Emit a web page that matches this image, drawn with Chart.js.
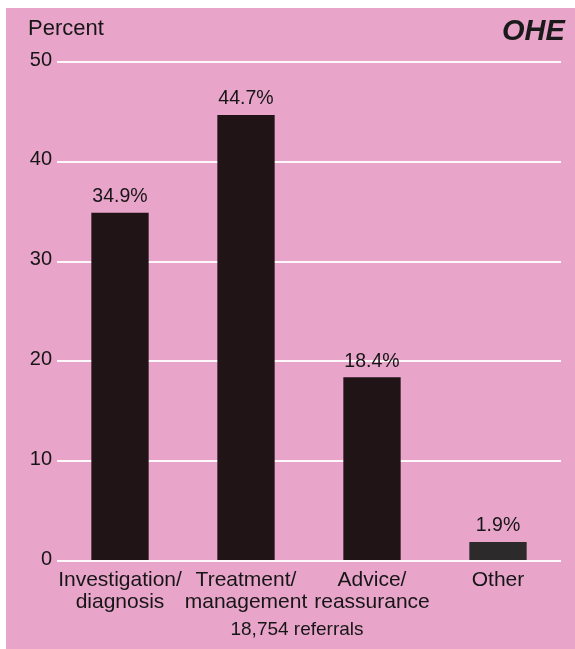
<!DOCTYPE html>
<html>
<head>
<meta charset="utf-8">
<script src="https://cdn.jsdelivr.net/npm/chart.js@4.4.1/dist/chart.umd.min.js"></script>
<style>
  html, body { margin: 0; padding: 0; background: #ffffff; }
  #panel {
    position: absolute; left: 6px; top: 8px;
    width: 569px; height: 641px;
    background: #e8a4c9;
  }
  canvas { display: block; }
</style>
</head>
<body>
<div id="panel"><canvas id="chart" width="569" height="641"></canvas></div>
<script>
// Reasons for referral (share of 18,754 referrals)
const categories = [
  ['Investigation/', 'diagnosis'],
  ['Treatment/', 'management'],
  ['Advice/', 'reassurance'],
  ['Other']
];
const percentages = [34.9, 44.7, 18.4, 1.9];
const valueLabels = ['34.9%', '44.7%', '18.4%', '1.9%'];
const yTicks = [0, 10, 20, 30, 40, 50];
const axisUnit = 'Percent';
const footnote = '18,754 referrals';
const brand = 'OHE';

const ink = '#161616';
const font = 'Liberation Sans, Arial, Helvetica, sans-serif';

// Percent labels over each bar, the unit caption, the total caption and the logo
const annotations = {
  id: 'annotations',
  afterDatasetsDraw(chart) {
    const ctx = chart.ctx;
    const meta = chart.getDatasetMeta(0);
    ctx.save();
    ctx.fillStyle = ink;
    ctx.textAlign = 'center';
    ctx.textBaseline = 'middle';
    ctx.font = '19.5px ' + font;
    meta.data.forEach((bar, i) => {
      ctx.fillText(valueLabels[i], bar.x, bar.y - 16);
    });

    ctx.textAlign = 'left';
    ctx.font = '22px ' + font;
    ctx.fillText(axisUnit, 22, 21);

    ctx.textAlign = 'center';
    ctx.font = '19px ' + font;
    ctx.fillText(footnote, 291, 622);

    // logo: O followed by italic HE
    ctx.font = 'italic bold 29px ' + font;
    ctx.textAlign = 'left';
    ctx.fillStyle = '#1a1a1a';
    ctx.fillText(brand, 496, 24);
    ctx.restore();
  }
};

new Chart(document.getElementById('chart'), {
  type: 'bar',
  data: {
    labels: categories,
    datasets: [{
      data: percentages,
      backgroundColor: ['#211417', '#211417', '#211417', '#2c2a2b'],
      borderWidth: 0,
      categoryPercentage: 1,
      barPercentage: 0.455
    }]
  },
  options: {
    responsive: false,
    animation: false,
    layout: { padding: { top: 54, right: 14, bottom: 0, left: 0 } },
    plugins: {
      legend: { display: false },
      tooltip: { enabled: false }
    },
    scales: {
      x: {
        grid: { display: false },
        border: { display: false },
        ticks: {
          color: ink,
          font: { family: font, size: 21, lineHeight: 1.05 },
          padding: 0,
          maxRotation: 0,
          autoSkip: false
        },
        afterFit(scale) { scale.height = 88; }
      },
      y: {
        min: 0,
        max: 50,
        afterBuildTicks(scale) { scale.ticks = yTicks.map(v => ({ value: v })); },
        grid: { color: 'rgba(255,255,255,0.92)', lineWidth: 2, drawTicks: false },
        border: { display: false },
        ticks: {
          color: ink,
          font: { family: font, size: 20 },
          padding: 5,
          labelOffset: -2
        },
        afterFit(scale) { scale.width = 51; }
      }
    }
  },
  plugins: [annotations]
});
</script>
</body>
</html>
